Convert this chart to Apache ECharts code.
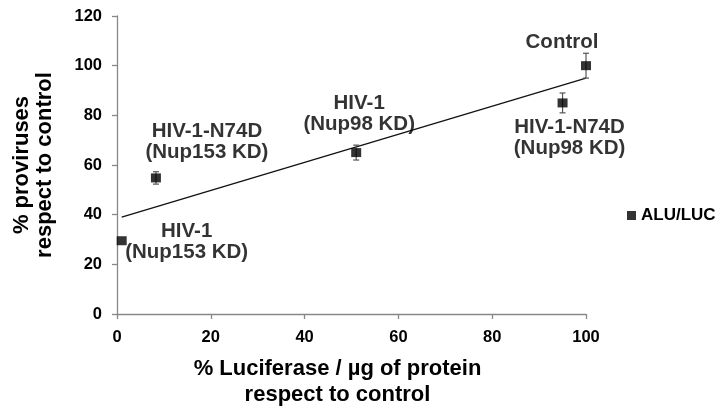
<!DOCTYPE html>
<html>
<head>
<meta charset="utf-8">
<script src="https://cdn.jsdelivr.net/npm/echarts@6/dist/echarts.min.js"></script>
<style>html,body{margin:0;padding:0;background:#fff}#c{width:726px;height:416px}</style>
</head>
<body>
<div id="c"></div>
<script>
// Data
const pointNames = ['HIV-1\n(Nup153 KD)', 'HIV-1-N74D\n(Nup153 KD)', 'HIV-1\n(Nup98 KD)', 'HIV-1-N74D\n(Nup98 KD)', 'Control'];
const luciferase = [1, 8.3, 51, 95, 100];
const proviruses = [29.5, 54.8, 65, 85, 100];
const errors = [0, 2.5, 3, 4, 5];
const trendX = [1, 100];
const trendY = [39, 95];
const xTicks = [0, 20, 40, 60, 80, 100];
const yTicks = [0, 20, 40, 60, 80, 100, 120];

const labelOffsets = [[65, 1], [51, -36], [3, -39], [7, 35], [-24, -23]];

const FONT = 'Liberation Sans, Arial, sans-serif';
const chart = echarts.init(document.getElementById('c'));

const scatterData = luciferase.map((x, i) => ({
  value: [x, proviruses[i]],
  label: {
    show: true,
    formatter: pointNames[i],
    position: 'inside',
    offset: labelOffsets[i],
    color: '#000',
    textBorderWidth: 0,
    fontFamily: FONT,
    fontWeight: 'bold',
    fontSize: 20.5,
    lineHeight: 21,
    align: 'center',
    verticalAlign: 'middle'
  }
}));

const errData = luciferase.map((x, i) => [x, proviruses[i] - errors[i], proviruses[i] + errors[i]]);

chart.setOption({
  animation: false,
  grid: { left: 117, right: 140, top: 16, bottom: 102, containLabel: false },
  legend: {
    show: true,
    orient: 'vertical',
    left: 622,
    top: 202,
    itemWidth: 9,
    itemHeight: 9,
    itemGap: 6,
    data: [{ name: 'ALU/LUC', icon: 'rect' }],
    textStyle: { color: '#000', fontFamily: FONT, fontWeight: 'bold', fontSize: 17 }
  },
  xAxis: {
    type: 'value',
    min: xTicks[0],
    max: xTicks[xTicks.length - 1],
    interval: 20,
    name: '% Luciferase / µg of protein\nrespect to control',
    nameLocation: 'middle',
    nameGap: 42,
    nameTextStyle: { color: '#000', fontFamily: FONT, fontWeight: 'bold', fontSize: 22, lineHeight: 26, padding: [0, 28, 0, 0], verticalAlign: 'top' },
    splitLine: { show: false },
    axisLine: { show: true, lineStyle: { color: '#888', width: 1.3 } },
    axisTick: { show: true, length: 5, lineStyle: { color: '#888', width: 1.3 } },
    axisLabel: { color: '#000', fontFamily: FONT, fontWeight: 'bold', fontSize: 16.5, margin: 15 }
  },
  yAxis: {
    type: 'value',
    min: yTicks[0],
    max: yTicks[yTicks.length - 1],
    interval: 20,
    name: '% proviruses\nrespect to control',
    nameLocation: 'middle',
    nameGap: 61,
    nameRotate: 90,
    nameTextStyle: { color: '#000', fontFamily: FONT, fontWeight: 'bold', fontSize: 22, lineHeight: 23 },
    splitLine: { show: false },
    axisLine: { show: true, lineStyle: { color: '#888', width: 1.3 } },
    axisTick: { show: true, length: 5, lineStyle: { color: '#888', width: 1.3 } },
    axisLabel: { color: '#000', fontFamily: FONT, fontWeight: 'bold', fontSize: 16.5, margin: 15 }
  },
  series: [
    {
      name: 'trend',
      type: 'line',
      data: trendX.map((x, i) => [x, trendY[i]]),
      symbol: 'none',
      lineStyle: { color: '#111', width: 1.3 },
      z: 2,
      silent: true
    },
    {
      name: 'err',
      type: 'custom',
      data: errData,
      z: 3,
      renderItem: function (params, api) {
        const x = api.value(0);
        const lo = api.coord([x, api.value(1)]);
        const hi = api.coord([x, api.value(2)]);
        if (Math.abs(hi[1] - lo[1]) < 0.5) return null;
        const cw = 3;
        const st = { stroke: '#555', lineWidth: 1.2 };
        return {
          type: 'group',
          children: [
            { type: 'line', shape: { x1: lo[0], y1: lo[1], x2: hi[0], y2: hi[1] }, style: st },
            { type: 'line', shape: { x1: lo[0] - cw, y1: lo[1], x2: lo[0] + cw, y2: lo[1] }, style: st },
            { type: 'line', shape: { x1: hi[0] - cw, y1: hi[1], x2: hi[0] + cw, y2: hi[1] }, style: st }
          ]
        };
      }
    },
    {
      name: 'ALU/LUC',
      type: 'scatter',
      symbol: 'rect',
      symbolSize: [10, 9],
      itemStyle: { color: '#000' },
      data: scatterData,
      z: 4
    }
  ]
});
</script>
</body>
</html>
